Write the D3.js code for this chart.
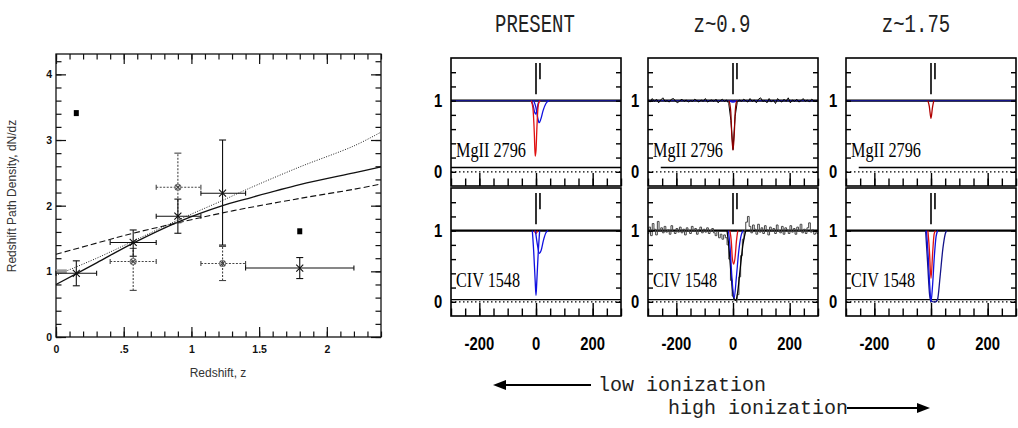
<!DOCTYPE html>
<html>
<head>
<meta charset="utf-8">
<script src="https://cdn.jsdelivr.net/npm/d3@7"></script>
<style>
  body { margin: 0; background: #fff; }
  svg { display: block; }
  .tick text { font-family: "Liberation Sans", Arial, sans-serif; font-weight: bold; font-size: 10.5px; fill: #111; }
  .narrow { font-family: "Liberation Sans", Arial, sans-serif; font-weight: bold; font-size: 18.5px; fill: #000; }
  .mono { font-family: "Liberation Mono", "Courier New", monospace; font-size: 19px; fill: #222; }
  .ion { font-family: "Liberation Serif", "Times New Roman", serif; font-size: 22px; fill: #000; }
</style>
</head>
<body>
<div id="chart"></div>
<script>
// ---- left panel: redshift path density
const zPts = [0.15, 0.57, 0.90, 1.23, 1.80];
const dnPts = [0.97, 1.44, 1.84, 2.19, 1.05];
const zPtsLo = [0.00, 0.40, 0.74, 1.07, 1.40];
const zPtsHi = [0.30, 0.74, 1.07, 1.40, 2.20];
const dnPtsLo = [0.78, 1.23, 1.58, 1.40, 0.89];
const dnPtsHi = [1.16, 1.63, 2.10, 3.00, 1.21];

const zAlt = [0.57, 0.90, 1.23];
const dnAlt = [1.15, 2.28, 1.12];
const zAltLo = [0.40, 0.74, 1.07];
const zAltHi = [0.74, 1.07, 1.40];
const dnAltLo = [0.71, 1.74, 0.86];
const dnAltHi = [1.35, 2.80, 1.38];

const zSq = [0.15, 1.80];
const dnSq = [3.41, 1.61];

const zLocal = [0.00, 0.08];
const dnLocal = [1.00];

const zFit = [0, 0.3, 0.57, 0.9, 1.23, 1.4, 1.8, 2.2, 2.4];
const fitSolid = [0.80, 1.13, 1.43, 1.75, 2.00, 2.10, 2.32, 2.50, 2.59];
const fitDotted = [0.94, 1.20, 1.46, 1.78, 2.08, 2.24, 2.59, 2.91, 3.12];
const fitDashed = [1.26, 1.43, 1.58, 1.74, 1.89, 1.96, 2.11, 2.25, 2.33];

const zTicks = [0, 0.5, 1, 1.5, 2];
const zTickLabels = ['0', '.5', '1', '1.5', '2'];
const dnTicks = [0, 1, 2, 3, 4];

// ---- right panels: absorption profiles
const columns = ['PRESENT', 'z~0.9', 'z~1.75'];
const ions = ['MgII 2796', 'CIV 1548'];
const velTicks = [-200, 0, 200];
const fluxTicks = [0, 1];
const markerVel = [0, 14];
const markerTop = 1.53;
const markerBottom = [1.09, 1.30];
const errLevel = [0.06, 0.03];
const errStart = [[-300, -255, -255], [-300, -300, -300]];

// model profiles [velocity, normalised flux]
const mgPresentRed = [[-17, 1], [-11, 0.9], [-6, 0.55], [-3, 0.22], [0, 0.3], [3, 0.6], [6, 0.85], [10, 0.97], [15, 1]];
const mgPresentBlueA = [[-17, 1], [-10, 0.93], [-5, 0.84], [-1, 0.81], [3, 0.86], [7, 0.95], [11, 1]];
const mgPresentBlueB = [[-8, 1], [0, 0.9], [6, 0.76], [11, 0.69], [17, 0.74], [25, 0.86], [35, 0.96], [46, 1]];
const mgZ09Red = [[-14, 1], [-8, 0.85], [-4, 0.5], [0, 0.3], [4, 0.5], [8, 0.85], [13, 1]];
const mgZ09Blue = [[-12, 1], [0, 0.98], [12, 1]];
const mgZ175Red = [[-11, 1], [-6, 0.92], [0, 0.75], [5, 0.9], [10, 1]];
const civPresentRed = [[-6, 1], [0, 0.96], [6, 1]];
const civPresentBlueA = [[-13, 1], [-8, 0.7], [-3, 0.3], [0, 0.09], [3, 0.3], [8, 0.7], [13, 1]];
const civPresentBlueB = [[-2, 1], [5, 0.8], [12, 0.68], [18, 0.72], [26, 0.86], [35, 0.97], [43, 1]];
const civZ09Red = [[-11, 1], [-6, 0.85], [-2, 0.6], [3, 0.53], [8, 0.65], [12, 0.85], [17, 1]];
const civZ09Blue = [[-16, 1], [-10, 0.75], [-4, 0.35], [4, 0.05], [12, 0.35], [20, 0.7], [28, 0.92], [35, 1]];
const civZ09Black = [[-21, 1], [-14, 0.75], [-6, 0.35], [2, 0.06], [9, 0.02], [16, 0.12], [25, 0.45], [35, 0.8], [45, 1]];
const civZ175Red = [[-11, 1], [-6, 0.75], [0, 0.33], [6, 0.7], [11, 0.95], [16, 1]];
const civZ175Blue = [[-16, 1], [-10, 0.65], [-4, 0.2], [0, 0.0], [5, 0.2], [12, 0.65], [18, 0.92], [24, 1]];
const civZ175Outer = [[-19, 1], [-12, 0.55], [-5, 0.1], [0, 0.01], [8, 0], [16, 0], [23, 0.03], [32, 0.35], [42, 0.75], [50, 0.95], [55, 1]];

// observed spectra (z~0.9)
const mgZ09Flux = [
  1.01, 0.98, 1.03, 0.99, 1.02, 0.97, 1.01, 1.04, 0.99, 1.00,
  0.98, 1.02, 1.03, 0.99, 0.97, 1.00, 1.02, 0.99, 1.01, 0.98,
  1.00, 0.99, 1.02, 1.00, 0.98, 1.01, 0.99, 1.03, 0.98, 1.00,
  1.01, 0.99, 1.02, 0.97, 1.00, 1.02, 0.99, 1.01, 0.96,
  0.72, 0.31, 0.78, 0.98,
  1.01, 0.99, 1.02, 1.00, 0.98, 1.03, 0.99, 1.01, 0.97, 1.02,
  1.04, 0.99, 1.00, 0.97, 1.03, 0.98, 1.01, 0.96, 1.03, 1.00,
  0.98, 1.02, 0.99, 1.04, 0.97, 1.01, 0.99, 1.02, 0.98, 1.00,
  1.03, 0.99, 1.01, 0.98, 1.02, 1.00, 0.99, 1.01
];
const civZ09Flux = [
  0.96, 1.05, 0.93, 1.10, 1.02, 0.94, 1.13, 0.99, 1.04, 0.97,
  1.06, 0.98, 1.01, 0.95, 1.07, 0.99, 0.96, 1.03, 0.98, 1.05,
  0.97, 1.02, 0.94, 1.04, 1.00, 0.96, 1.06, 0.99, 1.03, 0.95,
  1.01, 1.05, 0.97, 1.02, 0.98, 1.04, 0.96, 1.00, 1.03, 0.97,
  0.93, 0.99, 0.90, 0.95, 0.88, 0.94,
  0.90, 0.80, 0.60, 0.30, 0.08, 0.03, 0.02, 0.10, 0.35, 0.65, 0.88, 1.00, 1.12, 1.20, 1.06,
  0.97, 1.08, 1.02, 0.95, 1.09, 0.98, 1.04, 0.96, 1.07, 1.01,
  0.94, 1.05, 0.99, 1.03, 0.96, 1.08, 1.00, 0.97, 1.06, 0.95,
  1.04, 1.01, 0.96, 1.07, 0.98, 1.03, 0.95, 1.05, 1.00, 1.09,
  0.97, 1.02, 0.96, 1.04, 1.11, 0.98, 1.01, 0.95, 0.97, 0.96
];

const red = '#e01010';
const darkRed = '#900000';
const blue = '#1010e0';
const navy = '#14148a';

const panelModels = [
  [
    [{ d: mgPresentBlueA, c: blue }, { d: mgPresentBlueB, c: blue }, { d: mgPresentRed, c: red }],
    [{ d: mgZ09Blue, c: blue }, { d: mgZ09Red, c: darkRed }],
    [{ d: mgZ175Red, c: '#b00000' }]
  ],
  [
    [{ d: civPresentRed, c: red }, { d: civPresentBlueB, c: blue }, { d: civPresentBlueA, c: blue }],
    [{ d: civZ09Black, c: '#000' }, { d: civZ09Blue, c: blue }, { d: civZ09Red, c: red }],
    [{ d: civZ175Outer, c: navy }, { d: civZ175Blue, c: blue }, { d: civZ175Red, c: red }]
  ]
];
const panelData = [
  [null, { v: d3.range(-300, 300.1, 7.5), f: mgZ09Flux, step: false }, null],
  [null, { v: d3.range(-300, 300.1, 6), f: civZ09Flux, step: true }, null]
];

const svg = d3.select('#chart').append('svg').attr('width', 1018).attr('height', 428);
svg.append('rect').attr('width', 1018).attr('height', 428).attr('fill', '#fff');

// ===== left chart =====
const lx = d3.scaleLinear().domain([0, 2.4]).range([56, 381]);
const ly = d3.scaleLinear().domain([0, 4.31]).range([337, 54]);
const left = svg.append('g');

function tickGroup(parent, tx, ty, axis) {
  const g = parent.append('g').attr('transform', `translate(${tx},${ty})`).call(axis);
  g.select('.domain').remove();
  g.selectAll('line').attr('stroke', '#111').attr('stroke-width', 1.2);
  return g;
}
const zMinor = d3.range(0, 2.41, 0.1);
const dnMinor = d3.range(0, 4.31, 0.2);
tickGroup(left, 0, 337, d3.axisBottom(lx).tickValues(zMinor).tickSize(-5.5).tickFormat(''));
tickGroup(left, 0, 337, d3.axisBottom(lx).tickValues(zTicks).tickSize(-10).tickPadding(9).tickFormat((d, i) => zTickLabels[i]));
tickGroup(left, 0, 54, d3.axisTop(lx).tickValues(zMinor).tickSize(-5.5).tickFormat(''));
tickGroup(left, 0, 54, d3.axisTop(lx).tickValues(zTicks).tickSize(-10).tickFormat(''));
tickGroup(left, 56, 0, d3.axisLeft(ly).tickValues(dnMinor).tickSize(-5.5).tickFormat(''));
tickGroup(left, 56, 0, d3.axisLeft(ly).tickValues(dnTicks).tickSize(-10).tickPadding(4).tickFormat(d3.format('d')));
tickGroup(left, 381, 0, d3.axisRight(ly).tickValues(dnMinor).tickSize(-5.5).tickFormat(''));
tickGroup(left, 381, 0, d3.axisRight(ly).tickValues(dnTicks).tickSize(-10).tickFormat(''));

left.append('rect').attr('x', 56).attr('y', 54).attr('width', 325).attr('height', 283)
  .attr('fill', 'none').attr('stroke', '#111').attr('stroke-width', 1.3);

// fits
const fitLine = vals => d3.line().curve(d3.curveCatmullRom.alpha(0.5))
  .x((d, i) => lx(zFit[i])).y(d => ly(d))(vals);
left.append('path').attr('d', fitLine(fitSolid)).attr('fill', 'none').attr('stroke', '#111').attr('stroke-width', 1.3);
left.append('path').attr('d', fitLine(fitDotted)).attr('fill', 'none').attr('stroke', '#222').attr('stroke-width', 1).attr('stroke-dasharray', '1,1.5');
left.append('path').attr('d', fitLine(fitDashed)).attr('fill', 'none').attr('stroke', '#111').attr('stroke-width', 1.1).attr('stroke-dasharray', '6,3');

// local gray bar
left.append('rect').attr('x', lx(zLocal[0])).attr('y', ly(dnLocal[0]) - 2)
  .attr('width', lx(zLocal[1]) - lx(zLocal[0])).attr('height', 4).attr('fill', '#999');

function errorBars(zs, dns, zlo, zhi, dlo, dhi, stroke, dash) {
  const g = left.append('g').attr('stroke', stroke).attr('stroke-width', 1.1).attr('fill', 'none');
  zs.forEach((z, i) => {
    const cx = lx(z), cy = ly(dns[i]);
    g.append('line').attr('x1', lx(zlo[i])).attr('x2', lx(zhi[i])).attr('y1', cy).attr('y2', cy).attr('stroke-dasharray', dash);
    g.append('line').attr('x1', cx).attr('x2', cx).attr('y1', ly(dlo[i])).attr('y2', ly(dhi[i])).attr('stroke-dasharray', dash);
    [zlo[i], zhi[i]].forEach(v => g.append('line').attr('x1', lx(v)).attr('x2', lx(v)).attr('y1', cy - 2.5).attr('y2', cy + 2.5));
    [dlo[i], dhi[i]].forEach(v => g.append('line').attr('x1', cx - 3.5).attr('x2', cx + 3.5).attr('y1', ly(v)).attr('y2', ly(v)));
  });
  return g;
}
const altG = errorBars(zAlt, dnAlt, zAltLo, zAltHi, dnAltLo, dnAltHi, '#444', '2,1.5');
zAlt.forEach((z, i) => {
  const cx = lx(z), cy = ly(dnAlt[i]);
  altG.append('circle').attr('cx', cx).attr('cy', cy).attr('r', 3).attr('stroke', '#777');
  altG.append('path').attr('d', `M${cx - 2.3},${cy - 2.3}L${cx + 2.3},${cy + 2.3}M${cx - 2.3},${cy + 2.3}L${cx + 2.3},${cy - 2.3}`);
});
const ptG = errorBars(zPts, dnPts, zPtsLo, zPtsHi, dnPtsLo, dnPtsHi, '#111', null);
zPts.forEach((z, i) => {
  const cx = lx(z), cy = ly(dnPts[i]);
  ptG.append('path').attr('d', `M${cx - 3.5},${cy - 3.5}L${cx + 3.5},${cy + 3.5}M${cx - 3.5},${cy + 3.5}L${cx + 3.5},${cy - 3.5}`);
});
left.selectAll('.sq').data(zSq).enter().append('rect')
  .attr('x', d => lx(d) - 2.5).attr('y', (d, i) => ly(dnSq[i]) - 3)
  .attr('width', 5).attr('height', 6).attr('fill', '#000');

left.append('text').attr('x', 218).attr('y', 377).attr('text-anchor', 'middle')
  .style('font-family', '"Liberation Sans", Arial, sans-serif').style('font-size', '12px').style('fill', '#333')
  .text('Redshift, z');
left.append('text').attr('transform', 'translate(16,196) rotate(-90)').attr('text-anchor', 'middle')
  .style('font-family', '"Liberation Sans", Arial, sans-serif').style('font-size', '12px').style('fill', '#333')
  .text('Redshift Path Density, dN/dz');

// ===== right panels =====
const panelLeft = [451, 648, 846];
const panelW = 170;
const panelTop = [58, 188];
const panelH = 128;
const titleX = [535, 722, 916];

// condensed bold label (no narrow font installed, so squeeze horizontally)
function narrowText(parent, x, y, txt, dy) {
  parent.append('text').attr('class', 'narrow')
    .attr('transform', `translate(${x},${y}) scale(0.8,1)`)
    .attr('dy', dy || 0).attr('text-anchor', 'middle').text(txt);
}

ions.forEach((ion, r) => {
  columns.forEach((col, c) => {
    const L = panelLeft[c], T = panelTop[r];
    const x = d3.scaleLinear().domain([-300, 300]).range([L, L + panelW]);
    const y = d3.scaleLinear().domain([-0.2, 1.6]).range([T + panelH, T]);
    const g = svg.append('g');
    const clipId = `clip${r}${c}`;
    g.append('clipPath').attr('id', clipId).append('rect')
      .attr('x', L).attr('y', T).attr('width', panelW).attr('height', panelH);
    const inner = g.append('g').attr('clip-path', `url(#${clipId})`);
    const line = d3.line().x(d => x(d[0])).y(d => y(d[1]));

    // zero level and error level
    inner.append('line').attr('x1', L).attr('x2', L + panelW).attr('y1', y(0)).attr('y2', y(0))
      .attr('stroke', '#000').attr('stroke-width', 1.3).attr('stroke-dasharray', '1.5,2.5');
    inner.append('line').attr('x1', x(errStart[r][c])).attr('x2', L + panelW)
      .attr('y1', y(errLevel[r])).attr('y2', y(errLevel[r])).attr('stroke', '#000').attr('stroke-width', 1.4);

    // continuum
    inner.append('line').attr('x1', L).attr('x2', L + panelW).attr('y1', y(1)).attr('y2', y(1))
      .attr('stroke', '#000').attr('stroke-width', 2.2);
    if (r === 0) {
      inner.append('line').attr('x1', L).attr('x2', L + panelW).attr('y1', y(1)).attr('y2', y(1))
        .attr('stroke', navy).attr('stroke-width', 1.3);
    }

    const spec = panelData[r][c];
    if (spec) {
      const pts = spec.v.map((v, i) => [v, spec.f[i]]);
      inner.append('path').attr('d', line.curve(spec.step ? d3.curveStep : d3.curveLinear)(pts))
        .attr('fill', 'none').attr('stroke', spec.step ? '#444' : '#000').attr('stroke-width', 1);
    }

    panelModels[r][c].forEach(m => {
      inner.append('path').attr('d', line.curve(d3.curveMonotoneX)(m.d))
        .attr('fill', 'none').attr('stroke', m.c).attr('stroke-width', 1.3);
    });

    // component markers
    markerVel.forEach((v, i) => {
      g.append('line').attr('x1', x(v)).attr('x2', x(v)).attr('y1', y(markerTop)).attr('y2', y(markerBottom[i]))
        .attr('stroke', '#000').attr('stroke-width', 1.6);
    });

    // ticks
    const pt = (tx, ty, axis) => {
      const a = g.append('g').attr('transform', `translate(${tx},${ty})`).call(axis.tickFormat(''));
      a.select('.domain').remove();
      a.selectAll('line').attr('stroke', '#000').attr('stroke-width', 1.4);
    };
    pt(0, T + panelH, d3.axisBottom(x).tickValues(d3.range(-300, 301, 50)).tickSize(-7.5));
    pt(0, T + panelH, d3.axisBottom(x).tickValues(velTicks).tickSize(-13));
    pt(L, 0, d3.axisLeft(y).tickValues(d3.range(0, 1.5, 0.2)).tickSize(-5));
    pt(L + panelW, 0, d3.axisRight(y).tickValues(d3.range(0, 1.5, 0.2)).tickSize(-5));

    g.append('rect').attr('x', L).attr('y', T).attr('width', panelW).attr('height', panelH)
      .attr('fill', 'none').attr('stroke', '#000').attr('stroke-width', 1.6);

    fluxTicks.forEach(v => narrowText(g, L - 13, y(v), v, '0.36em'));

    g.append('text').attr('class', 'ion').attr('x', L + 5).attr('y', y(0.21))
      .attr('textLength', r === 0 ? 70 : 64).attr('lengthAdjust', 'spacingAndGlyphs').text(ion);

    if (r === 1) {
      velTicks.forEach(v => narrowText(g, x(v), 350, v));
    }
    if (r === 0) {
      svg.append('text').attr('class', 'mono')
        .attr('transform', `translate(${titleX[c]},32) scale(1,1.35)`)
        .attr('text-anchor', 'middle').text(col);
    }
  });
});

// ionization arrows
const ann = svg.append('g');
ann.append('text').attr('class', 'mono').attr('x', 598).attr('y', 391).style('font-size', '20px').text('low ionization');
ann.append('line').attr('x1', 503).attr('x2', 591).attr('y1', 385).attr('y2', 385).attr('stroke', '#000').attr('stroke-width', 2);
ann.append('path').attr('d', 'M493,385L506,380L506,390Z').attr('fill', '#000');
ann.append('text').attr('class', 'mono').attr('x', 668).attr('y', 414).style('font-size', '20px').text('high ionization');
ann.append('line').attr('x1', 847).attr('x2', 920).attr('y1', 408).attr('y2', 408).attr('stroke', '#000').attr('stroke-width', 2);
ann.append('path').attr('d', 'M930,408L917,403L917,413Z').attr('fill', '#000');
</script>
</body>
</html>
